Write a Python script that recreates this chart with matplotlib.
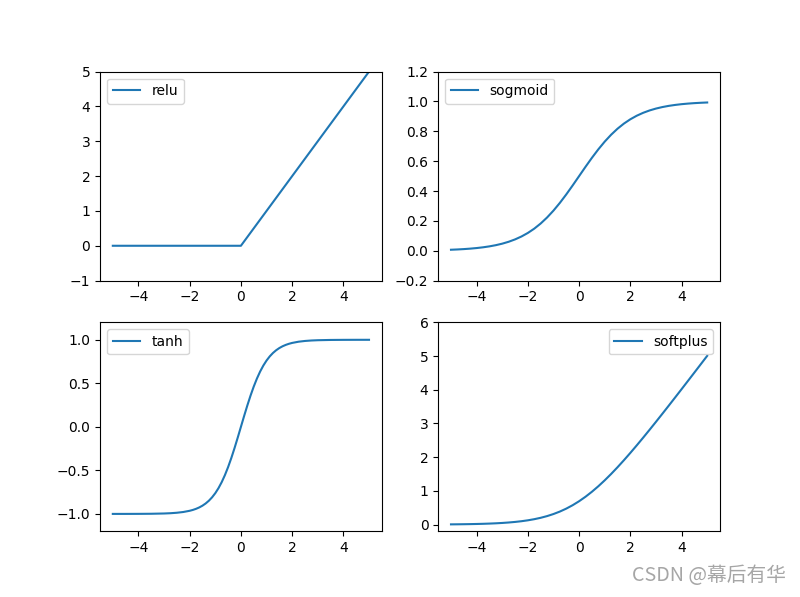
import matplotlib.pyplot as plt

# sample points (x from -5 to 5, step 0.25)
x = [-5.0, -4.75, -4.5, -4.25, -4.0, -3.75, -3.5, -3.25, -3.0, -2.75,
     -2.5, -2.25, -2.0, -1.75, -1.5, -1.25, -1.0, -0.75, -0.5, -0.25,
     0.0, 0.25, 0.5, 0.75, 1.0, 1.25, 1.5, 1.75, 2.0, 2.25,
     2.5, 2.75, 3.0, 3.25, 3.5, 3.75, 4.0, 4.25, 4.5, 4.75, 5.0]

relu = [0.0] * 21 + [0.25, 0.5, 0.75, 1.0, 1.25, 1.5, 1.75, 2.0, 2.25,
                     2.5, 2.75, 3.0, 3.25, 3.5, 3.75, 4.0, 4.25, 4.5, 4.75, 5.0]

sigmoid = [0.0067, 0.0086, 0.0110, 0.0141, 0.0180, 0.0230, 0.0293, 0.0373, 0.0474, 0.0601,
           0.0759, 0.0954, 0.1192, 0.1480, 0.1824, 0.2227, 0.2689, 0.3208, 0.3775, 0.4378,
           0.5,
           0.5622, 0.6225, 0.6792, 0.7311, 0.7773, 0.8176, 0.8520, 0.8808, 0.9046, 0.9241,
           0.9399, 0.9526, 0.9627, 0.9707, 0.9770, 0.9820, 0.9859, 0.9890, 0.9914, 0.9933]

# tanh is steep in the middle, so it gets denser points there
x_tanh = [-5.0, -4.5, -4.0, -3.5, -3.0, -2.75, -2.5, -2.25,
          -2.0, -1.875, -1.75, -1.625, -1.5, -1.375, -1.25, -1.125,
          -1.0, -0.875, -0.75, -0.625, -0.5, -0.375, -0.25, -0.125,
          0.0, 0.125, 0.25, 0.375, 0.5, 0.625, 0.75, 0.875,
          1.0, 1.125, 1.25, 1.375, 1.5, 1.625, 1.75, 1.875,
          2.0, 2.25, 2.5, 2.75, 3.0, 3.5, 4.0, 4.5, 5.0]
tanh = [-0.9999, -0.9998, -0.9993, -0.9982, -0.9951, -0.9919, -0.9866, -0.9780,
        -0.9640, -0.9541, -0.9414, -0.9254, -0.9052, -0.8798, -0.8483, -0.8093,
        -0.7616, -0.7039, -0.6352, -0.5546, -0.4621, -0.3584, -0.2449, -0.1244,
        0.0, 0.1244, 0.2449, 0.3584, 0.4621, 0.5546, 0.6352, 0.7039,
        0.7616, 0.8093, 0.8483, 0.8798, 0.9052, 0.9254, 0.9414, 0.9541,
        0.9640, 0.9780, 0.9866, 0.9919, 0.9951, 0.9982, 0.9993, 0.9998, 0.9999]

softplus = [0.0067, 0.0086, 0.0111, 0.0142, 0.0182, 0.0232, 0.0298, 0.0380, 0.0486, 0.0620,
            0.0789, 0.1002, 0.1269, 0.1602, 0.2014, 0.2519, 0.3133, 0.3868, 0.4741, 0.5759,
            0.6931,
            0.8259, 0.9741, 1.1368, 1.3133, 1.5019, 1.7014, 1.9102, 2.1269, 2.3502, 2.5789,
            2.8120, 3.0486, 3.2880, 3.5297, 3.7732, 4.0181, 4.2642, 4.5110, 4.7586, 5.0067]

fig = plt.figure(figsize=(8, 5.97), dpi=100)

plt.subplot(221)
plt.plot(x, relu, label='relu')
plt.ylim(-1, 5)
plt.legend(loc='best')

plt.subplot(222)
plt.plot(x, sigmoid, label='sogmoid')
plt.ylim(-0.2, 1.2)
plt.legend(loc='best')

plt.subplot(223)
plt.plot(x_tanh, tanh, label='tanh')
plt.ylim(-1.2, 1.2)
plt.legend(loc='best')

plt.subplot(224)
plt.plot(x, softplus, label='softplus')
plt.ylim(-0.2, 6)
plt.legend(loc='best')

fig.text(0.982, 0.019, 'CSDN @幕后有华', ha='right', va='bottom', fontsize=14.2,
         color='#a6a6a6', family=['Noto Sans CJK SC', 'DejaVu Sans'])

plt.savefig('out.png')
